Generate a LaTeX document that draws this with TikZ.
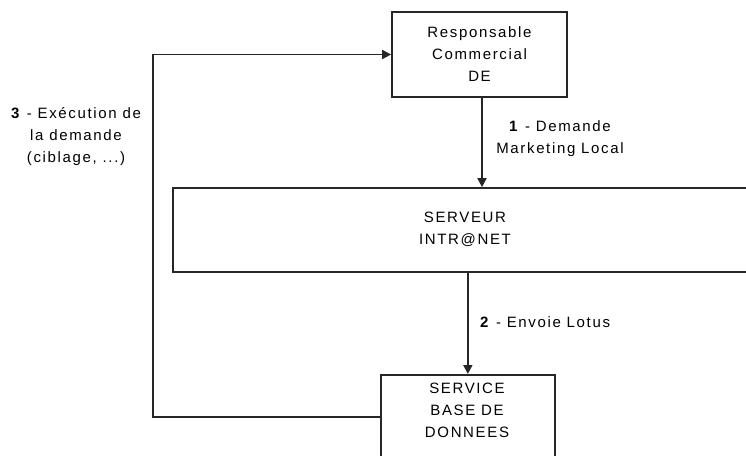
\documentclass[tikz,border=0pt]{standalone}
\usepackage{fontspec}
\setmainfont[LetterSpace=11]{Liberation Sans}
\usetikzlibrary{arrows.meta}
\begin{document}
\begin{tikzpicture}[x=1pt,y=-1pt,
  box/.style={draw=black!85,line width=1.7pt,rectangle,inner sep=0pt},
  txt/.style={align=center,inner sep=0pt,font=\fontsize{15}{22}\selectfont},
  conn/.style={draw=black!85,line width=1.7pt,-{Triangle[length=9pt,width=9pt]}}]
\useasboundingbox (0,0) rectangle (746,455);
\clip (0,0) rectangle (746,455);
\node[box,minimum width=175pt,minimum height=85pt,txt] (top) at (479.5,54.5) {Responsable\\Commercial\\DE};
\node[box,minimum width=594pt,minimum height=84pt] (mid) at (470,230) {};
\node[txt] (midt) at (465,229) {SERVEUR\\INTR@NET};
\node[box,anchor=north west,minimum width=174pt,minimum height=100pt] (db) at (380,374) {};
\node[txt] (dbt) at (467,410) {SERVICE\\BASE DE\\DONNEES};
\coordinate (c3) at (153,417);
\draw[conn] ([xshift=2.5pt]top.south) -- ([xshift=2.5pt]top.south |- mid.north);
\draw[conn] (mid.south -| db.north) -- (db.north);
\draw[conn] ([yshift=-43pt]db.north west) -- (c3) |- (top.west);
\node[txt] (l1) at (560,139) {\textbf{1} - Demande\\Marketing Local};
\node[txt,anchor=west] (l2) at (480,322) {\textbf{2} - Envoie Lotus};
\node[txt] (l3) at (76,137) {\textbf{3} - Exécution de\\la demande\\(ciblage, ...)};
\end{tikzpicture}
\end{document}
